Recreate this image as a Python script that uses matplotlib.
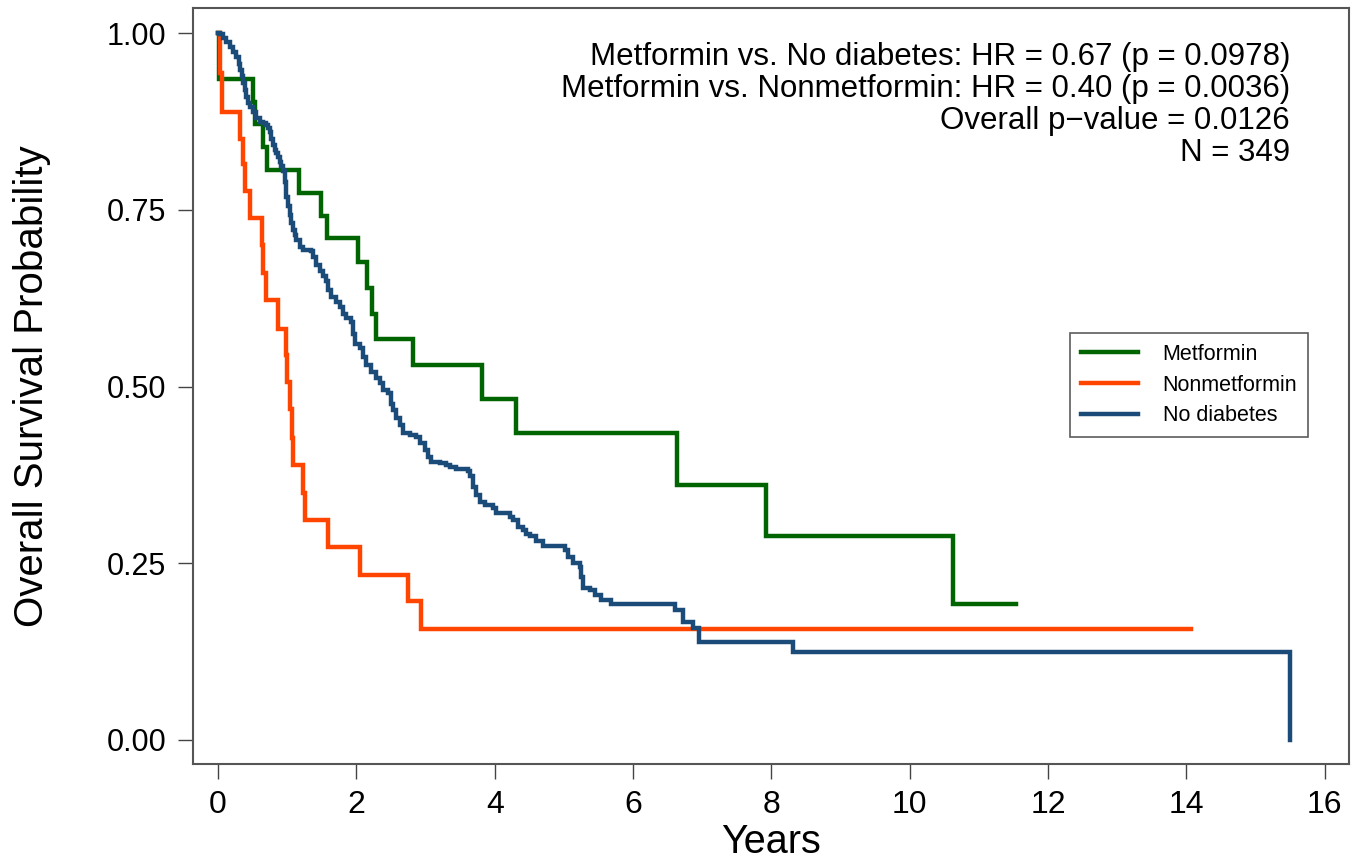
import numpy as np
import matplotlib
matplotlib.use('Agg')
import matplotlib.pyplot as plt

plt.rcParams['font.family'] = ['Liberation Sans', 'DejaVu Sans']

# Kaplan-Meier steps: (time in years, survival after the drop)
met_t = [0, 0.01, 0.51, 0.53, 0.655, 0.713, 1.175, 1.484, 1.57, 2.03, 2.15, 2.22,
         2.28, 2.82, 3.81, 4.31, 6.64, 7.92, 10.63, 11.54]
met_s = [1.0, 0.935, 0.903, 0.871, 0.839, 0.806, 0.774, 0.742, 0.710, 0.677, 0.640, 0.603,
         0.568, 0.530, 0.482, 0.434, 0.361, 0.289, 0.193, 0.193]

non_t = [0, 0.03, 0.06, 0.318, 0.357, 0.39, 0.46, 0.63, 0.655, 0.70, 0.87, 0.98, 0.99,
         1.04, 1.07, 1.09, 1.23, 1.26, 1.595, 2.05, 2.75, 2.93, 14.07]
non_s = [1.0, 0.944, 0.889, 0.851, 0.815, 0.777, 0.739, 0.700, 0.661, 0.622, 0.582, 0.545, 0.507,
         0.469, 0.428, 0.389, 0.349, 0.311, 0.273, 0.234, 0.196, 0.157, 0.157]

nod_t = [0, 0.025, 0.072, 0.121, 0.169, 0.217, 0.266, 0.304, 0.324, 0.347, 0.361, 0.386, 0.41,
         0.434, 0.468, 0.506, 0.555, 0.603, 0.651, 0.70, 0.723, 0.747, 0.772, 0.795, 0.82,
         0.844, 0.867, 0.892, 0.917, 0.940, 0.964, 0.989, 1.012, 1.037, 1.061, 1.084, 1.109,
         1.133, 1.181, 1.229, 1.350, 1.373, 1.423, 1.470, 1.518, 1.567, 1.590, 1.639, 1.712,
         1.759, 1.807, 1.856, 1.929, 1.952, 1.976, 2.049, 2.096, 2.145, 2.218, 2.290, 2.338,
         2.385, 2.458, 2.507, 2.530, 2.579, 2.627, 2.675, 2.771, 2.868, 2.916, 2.988, 3.036,
         3.085, 3.205, 3.302, 3.35, 3.447, 3.614, 3.639, 3.687, 3.736, 3.783, 3.856, 3.976,
         4.025, 4.217, 4.265, 4.337, 4.410, 4.459, 4.506, 4.603, 4.699, 5.012, 5.06, 5.132,
         5.229, 5.254, 5.277, 5.374, 5.446, 5.543, 5.687, 6.60, 6.72, 6.87, 6.96, 8.31, 15.50]
nod_s = [1.0, 0.999, 0.993, 0.988, 0.981, 0.974, 0.967, 0.957, 0.948, 0.939, 0.929, 0.920, 0.910,
         0.901, 0.896, 0.889, 0.880, 0.875, 0.873, 0.870, 0.866, 0.861, 0.851, 0.842, 0.835,
         0.830, 0.825, 0.818, 0.812, 0.805, 0.790, 0.769, 0.755, 0.743, 0.731, 0.722, 0.715,
         0.707, 0.698, 0.694, 0.692, 0.684, 0.672, 0.663, 0.656, 0.649, 0.637, 0.627, 0.620,
         0.613, 0.603, 0.597, 0.592, 0.575, 0.561, 0.554, 0.542, 0.531, 0.521, 0.512, 0.505,
         0.495, 0.491, 0.476, 0.467, 0.455, 0.446, 0.434, 0.432, 0.429, 0.420, 0.410, 0.401,
         0.394, 0.392, 0.389, 0.387, 0.384, 0.380, 0.373, 0.358, 0.347, 0.337, 0.333, 0.328,
         0.321, 0.316, 0.311, 0.302, 0.297, 0.292, 0.288, 0.281, 0.274, 0.269, 0.259, 0.250,
         0.245, 0.231, 0.215, 0.212, 0.205, 0.198, 0.192, 0.184, 0.167, 0.158, 0.139, 0.125, 0.0]

stats_lines = ['Metformin vs. No diabetes: HR = 0.67 (p = 0.0978)',
               'Metformin vs. Nonmetformin: HR = 0.40 (p = 0.0036)',
               'Overall p\u2212value = 0.0126',
               'N = 349']

fig = plt.figure(figsize=(13.6, 8.63), dpi=100)
ax = fig.add_axes([0.1417, 0.1147, 0.8502, 0.876])

ax.step(met_t, met_s, where='post', color='#006400', lw=3.2, label='Metformin',
        solid_joinstyle='miter')
ax.step(non_t, non_s, where='post', color='#FF4500', lw=3.2, label='Nonmetformin',
        solid_joinstyle='miter')
ax.step(nod_t, nod_s, where='post', color='#1B4B78', lw=3.2, label='No diabetes',
        solid_joinstyle='miter')

ax.set_xlim(-0.366, 16.35)
ax.set_ylim(-0.034, 1.0358)
ax.set_xticks(np.arange(0, 17, 2))
ax.set_yticks([0, 0.25, 0.5, 0.75, 1.0])
ax.set_yticklabels(['0.00', '0.25', '0.50', '0.75', '1.00'])
ax.tick_params(axis='both', direction='out', length=11, width=1, color='#444444',
               labelsize=22, pad=8)
ax.tick_params(axis='x', labelsize=23)

for sp in ax.spines.values():
    sp.set_color('#555555')
    sp.set_linewidth(1.5)

ax.set_xlabel('Years', fontsize=28.5, labelpad=2)
ax.set_ylabel('Overall Survival Probability', fontsize=29, labelpad=40)

ax.text(0.949, 0.955, '\n'.join(stats_lines), transform=ax.transAxes, ha='right', va='top',
        fontsize=22.5, linespacing=1.09)

leg = ax.legend(loc='upper left', bbox_to_anchor=(0.7587, 0.570), fontsize=15.5,
                frameon=True, fancybox=False, edgecolor='#333333', handlelength=2.65,
                handletextpad=1.15, labelspacing=0.45, borderpad=0.5, borderaxespad=0)
leg.get_frame().set_linewidth(1.2)

plt.savefig('out.png', dpi=100)
